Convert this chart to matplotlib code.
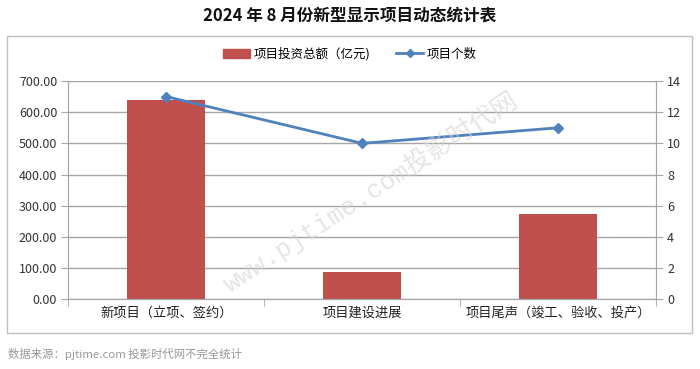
import matplotlib.pyplot as plt
from matplotlib.patches import Rectangle
from matplotlib.lines import Line2D

plt.rcParams['font.family'] = ['Noto Sans CJK SC', 'DejaVu Sans']

categories = ["新项目（立项、签约）", "项目建设进展", "项目尾声（竣工、验收、投产）"]
investment = [638, 88, 273]
project_count = [13, 10, 11]

bar_color = "#c0504d"
line_color = "#4f81bd"
grid_color = "#a6a6a6"

fig = plt.figure(figsize=(7, 3.69), dpi=100)
fig.patch.set_facecolor("white")

# chart frame
fig.patches.append(Rectangle((7 / 700, 1 - 333 / 369), 685 / 700, 297 / 369,
                             transform=fig.transFigure, fill=False,
                             edgecolor="#bfbfbf", linewidth=1.0))

ax = fig.add_axes([68.3 / 700, 1 - 299.3 / 369, (656 - 68.3) / 700, (299.3 - 81) / 369])
x = range(len(categories))
ax.bar(x, investment, width=0.4, color=bar_color, zorder=2)
ax.set_xlim(-0.5, 2.5)
ax.set_ylim(0, 700)
ax.set_yticks(range(0, 701, 100))
ax.set_yticklabels(["%.2f" % v for v in range(0, 701, 100)], fontsize=9, color="#333333")
ax.yaxis.grid(True, color=grid_color, linewidth=1.0, zorder=0)
ax.set_axisbelow(True)
ax.set_xticks(list(x))
ax.set_xticklabels(categories, fontsize=9.5, color="#222222")
ax.tick_params(axis="x", which="major", length=0, pad=5)
ax.set_xticks([-0.5, 0.5, 1.5, 2.5], minor=True)
ax.tick_params(axis="x", which="minor", length=5, direction="out", color=grid_color)
ax.tick_params(axis="y", length=5, direction="out", color=grid_color, pad=3)
for side in ["left", "right", "bottom"]:
    ax.spines[side].set_color(grid_color)
ax.spines["top"].set_visible(False)

ax2 = ax.twinx()
ax2.plot(list(x), project_count, color=line_color, linewidth=2,
         marker="D", markersize=5, zorder=3)
ax2.set_ylim(0, 14)
ax2.set_yticks(range(0, 15, 2))
ax2.tick_params(axis="y", labelsize=9, labelcolor="#333333", length=5,
                direction="out", color=grid_color, pad=3)
for side in ["left", "right", "bottom"]:
    ax2.spines[side].set_color(grid_color)
ax2.spines["top"].set_visible(False)

handles = [Rectangle((0, 0), 1, 1, color=bar_color),
           Line2D([], [], color=line_color, linewidth=2, marker="D", markersize=4)]
fig.legend(handles, ["项目投资总额（亿元)", "项目个数"], loc="center",
           bbox_to_anchor=(0.5, 1 - 54 / 369), ncol=2, frameon=False,
           fontsize=9, handlelength=2.2, columnspacing=2.0, handletextpad=0.3)

fig.text(0.5, 1 - 16 / 369, "2024 年 8 月份新型显示项目动态统计表",
         ha="center", va="center", fontsize=12, fontweight="bold", color="#111111")
fig.text(8 / 700, 1 - 354 / 369, "数据来源：pjtime.com 投影时代网不完全统计",
         ha="left", va="center", fontsize=8.2, color="#999999")

# watermark
fig.text(370 / 700, 1 - 192 / 369, "www.pjtime.com投影时代网", ha="center", va="center",
         rotation=33, fontsize=18.5, color="#d4d4d4", alpha=0.6,
         family=["Liberation Mono", "Noto Sans CJK SC"], zorder=10)

fig.savefig("out.png", dpi=100)
